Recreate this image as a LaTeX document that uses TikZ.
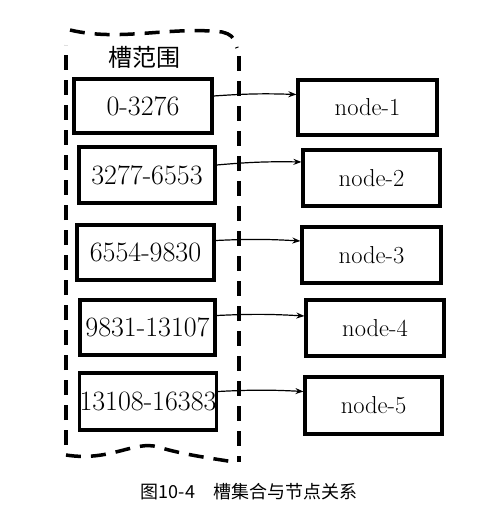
\documentclass[tikz,border=0pt]{standalone}
\usepackage{fontspec}
\newfontfamily\cjk{Noto Sans CJK SC}
\usetikzlibrary{calc,arrows.meta}
\tikzset{
  slotbox/.style={draw=black, line width=3.2pt, minimum width=136pt, minimum height=55pt, inner sep=0pt, font=\fontsize{28}{28}\selectfont},
  nodebox/.style={draw=black, line width=3.2pt, minimum width=138pt, minimum height=56pt, inner sep=0pt, font=\fontsize{24.5}{24.5}\selectfont},
  link/.style={draw=black, line width=1.2pt, -{Stealth[length=8pt,width=6pt]}},
  region/.style={draw=black, line width=3.5pt, dash pattern=on 15pt off 10pt}
}
\begin{document}
\begin{tikzpicture}[x=1pt,y=-1pt]
\useasboundingbox[fill=white] (0,0) rectangle (480,521);
% dashed slot region
\draw[region] (66,445) -- (66,45);
\draw[region] (70,30) .. controls (120,42) and (170,26) .. (222,32) .. controls (232,35) .. (237,48);
\draw[region] (239,56) -- (239,462);
\draw[region] (66,455) .. controls (110,462) and (135,440) .. (158,447) .. controls (185,455) and (210,458) .. (234,462);
\node[font=\cjk\fontsize{24}{24}\selectfont] (title) at (144,57) {槽范围};
% slot boxes
\node[slotbox, minimum width=138pt, minimum height=54pt] (l1) at (143,106) {0-3276};
\node[slotbox, minimum height=56pt] (l2) at (147,175) {3277-6553};
\node[slotbox, minimum width=137pt] (l3) at (145.5,252.5) {6554-9830};
\node[slotbox, minimum width=135pt] (l4) at (147.5,327.5) {9831-13107};
\node[slotbox, minimum height=57pt] (l5) at (148,401.5) {13108-16383};
% cluster nodes
\node[nodebox, minimum width=139pt, minimum height=55pt] (r1) at (367.5,107.5) {node-1};
\node[nodebox, minimum width=137pt] (r2) at (371.5,178) {node-2};
\node[nodebox, minimum width=139pt] (r3) at (371.5,255) {node-3};
\node[nodebox] (r4) at (375,328) {node-4};
\node[nodebox, minimum width=137pt, minimum height=57pt] (r5) at (373.5,405.5) {node-5};
% links
\draw[link] ($(l1.east)+(0,-10)$) to[bend left=3] ($(r1.west)+(0,-13)$);
\draw[link] ($(l2.east)+(0,-10)$) to[bend left=3] ($(r2.west)+(0,-16)$);
\draw[link] ($(l3.east)+(0,-12)$) to[bend left=3] ($(r3.west)+(0,-14)$);
\draw[link] ($(l4.east)+(0,-12)$) to[bend left=3] ($(r4.west)+(0,-12)$);
\draw[link] ($(l5.east)+(0,-10)$) to[bend left=3] ($(r5.west)+(0,-14)$);
% caption
\node[font=\cjk\fontsize{18}{18}\selectfont] (cap) at (249,492) {图10-4\quad 槽集合与节点关系};
\end{tikzpicture}
\end{document}
